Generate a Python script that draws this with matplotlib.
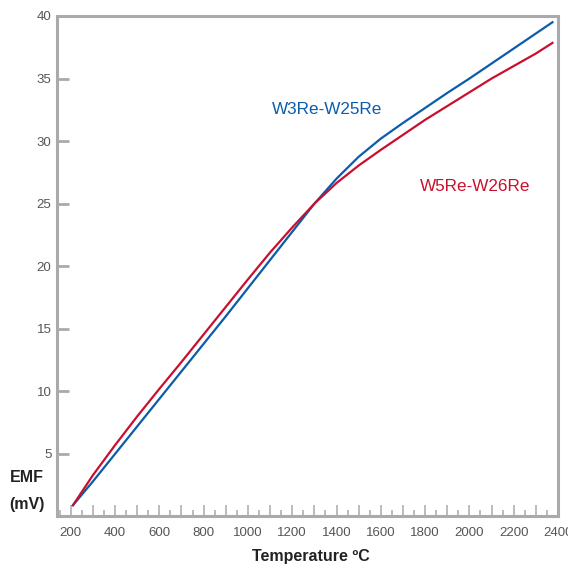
import numpy as np
import matplotlib
matplotlib.use("Agg")
import matplotlib.pyplot as plt
from matplotlib.ticker import MultipleLocator, FuncFormatter

# temperaturas (ºC) y fem (mV)
temp = [210, 300, 400, 500, 600, 700, 800, 900, 1000, 1100, 1200, 1300,
        1400, 1500, 1600, 1700, 1800, 1900, 2000, 2100, 2200, 2300, 2375]
emf_w3 = [0.9, 2.8, 5.0, 7.2, 9.4, 11.6, 13.8, 16.0, 18.25, 20.5, 22.75, 25.0,
          27.0, 28.75, 30.2, 31.45, 32.65, 33.85, 35.0, 36.2, 37.4, 38.6, 39.5]
emf_w5 = [0.9, 3.3, 5.7, 8.0, 10.2, 12.35, 14.55, 16.75, 18.95, 21.1, 23.1, 25.0,
          26.65, 28.05, 29.3, 30.5, 31.7, 32.8, 33.9, 35.0, 36.0, 37.0, 37.85]

label_w3 = "W3Re-W25Re"
label_w5 = "W5Re-W26Re"

BLUE = "#0b5cab"
RED = "#c8102e"
GRAY = "#aaaaaa"
TXT = "#555555"

plt.rcParams['font.family'] = ['Liberation Sans', 'DejaVu Sans']

fig = plt.figure(figsize=(5.68, 5.67), dpi=100)
ax = fig.add_axes([0.1004, 0.0891, 0.8820, 0.8827])

ax.plot(temp, emf_w3, color=BLUE, lw=1.6, solid_joinstyle='round')
ax.plot(temp, emf_w5, color=RED, lw=1.6, solid_joinstyle='round')

ax.text(1359, 32.5, label_w3, color=BLUE, fontsize=12.3, ha='center', va='center')
ax.text(2025, 26.4, label_w5, color=RED, fontsize=12.3, ha='center', va='center')

ax.set_xlim(138, 2400)
ax.set_ylim(0, 40)

for s in ax.spines.values():
    s.set_color(GRAY)
    s.set_linewidth(2.2)

ax.xaxis.set_major_locator(MultipleLocator(100))
ax.xaxis.set_minor_locator(MultipleLocator(50))
ax.xaxis.set_major_formatter(FuncFormatter(lambda v, p: f"{int(v)}" if int(round(v)) % 200 == 0 else ""))
ax.set_yticks(np.arange(5, 45, 5))

ax.tick_params(axis='x', which='major', direction='in', length=8, width=1.1,
               color=GRAY, labelcolor=TXT, labelsize=9.5, pad=7.5)
ax.tick_params(axis='x', which='minor', direction='in', length=4, width=1.1, color=GRAY)
ax.tick_params(axis='y', which='major', direction='in', length=8.5, width=2,
               color=GRAY, labelcolor=TXT, labelsize=9.5, pad=4)

fig.text(27 / 568, 1 - 478 / 567, "EMF", fontsize=11.5, fontweight='bold',
         color="#222222", ha='center', va='center')
fig.text(27 / 568, 1 - 504 / 567, "(mV)", fontsize=11.5, fontweight='bold',
         color="#222222", ha='center', va='center')
fig.text(311 / 568, 1 - 557 / 567, "Temperature ºC", fontsize=11.5, fontweight='bold',
         color="#222222", ha='center', va='center')

fig.savefig("out.png", dpi=100)
